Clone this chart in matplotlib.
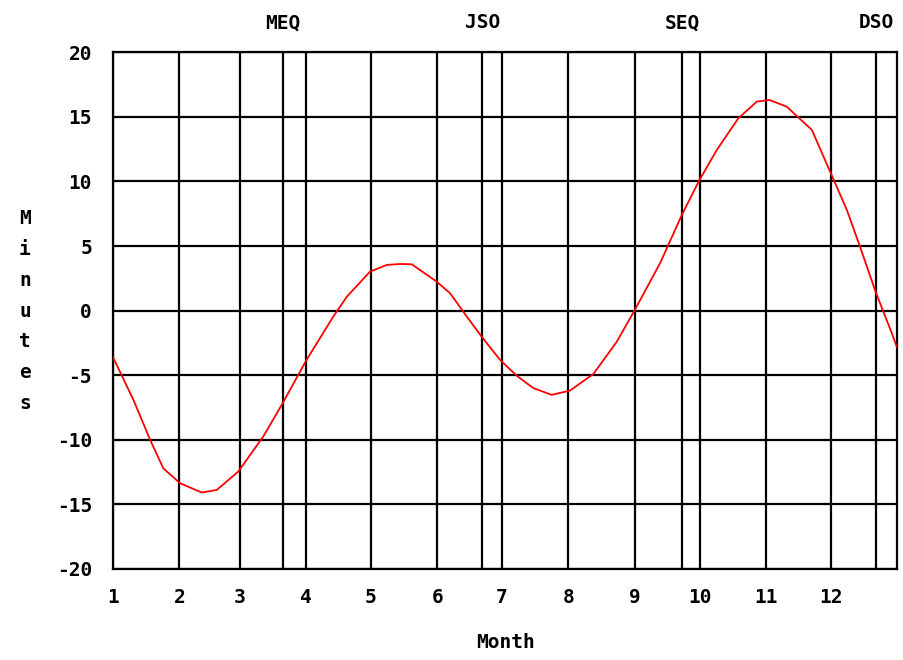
import matplotlib
matplotlib.use("Agg")
import matplotlib.pyplot as plt

# Equation of time: day of year (0 = Jan 1) vs minutes
days = [0, 9.6, 17.4, 23.5, 31.3, 41.4, 48.4, 58.4, 70, 78.6, 90.2, 102.6,
        108.9, 119.7, 127.5, 133.7, 139.1, 150.7, 156.9, 164.7, 171.3, 180.2,
        188, 195.7, 204.2, 212.7, 223.6, 234.5, 243, 254.6, 264.7, 272.9, 281,
        291, 299.6, 305.5, 313.5, 325.2, 333.7, 341.5, 347.6, 355, 362.4, 364.7]
minutes = [-3.56, -6.9, -10.0, -12.2, -13.36, -14.08, -13.88, -12.46, -9.75,
           -7.3, -3.8, -0.46, 1.08, 3.02, 3.54, 3.61, 3.59, 2.24, 1.35, -0.46,
           -1.95, -3.82, -5.05, -6.0, -6.52, -6.19, -4.9, -2.4, 0.1, 3.67, 7.4,
           10.1, 12.44, 14.89, 16.18, 16.31, 15.79, 13.99, 10.76, 7.79, 4.95,
           1.4, -1.75, -2.79]

month_starts = [0, 31, 59, 90, 120, 151, 181, 212, 243, 273, 304, 334]
month_labels = [str(m) for m in range(1, 13)]
event_days = [79, 172, 265, 355]
event_labels = ["MEQ", "JSO", "SEQ", "DSO"]
y_ticks = [-20, -15, -10, -5, 0, 5, 10, 15, 20]

font = {"family": "DejaVu Sans Mono", "weight": "bold", "size": 14}

fig = plt.figure(figsize=(9.04, 6.6), dpi=100)
ax = fig.add_axes([0.1247, 0.1379, 0.868, 0.7829])

ax.set_xlim(0, 365)
ax.set_ylim(-20, 20)

# grid: month lines, minute lines, equinox/solstice lines
for d in month_starts + event_days:
    ax.axvline(d, color="black", lw=1.6, zorder=1)
for v in y_ticks:
    ax.axhline(v, color="black", lw=1.6, zorder=1)

ax.plot(days, minutes, color="red", lw=1.3, zorder=3)

ax.set_xticks(month_starts)
ax.set_xticklabels(month_labels, fontdict=font)
ax.set_yticks(y_ticks)
ax.set_yticklabels([str(v) for v in y_ticks], fontdict=font)
ax.tick_params(length=0)
ax.tick_params(axis="x", pad=14)
ax.tick_params(axis="y", pad=15)

for s in ax.spines.values():
    s.set_linewidth(1.6)

for d, lab in zip(event_days, event_labels):
    ax.text(d, 1.057, lab, transform=ax.get_xaxis_transform(),
            ha="center", va="center", fontdict=font)

ax.text(0.5, -0.143, "Month", transform=ax.transAxes, ha="center",
        va="center", fontdict=font)

# vertical stacked y label
for i, ch in enumerate("Minutes"):
    fig.text(25 / 904, 1 - (219 + i * 30.7) / 660, ch, ha="center",
             va="center", fontdict=font)

fig.savefig("out.png", dpi=100)
